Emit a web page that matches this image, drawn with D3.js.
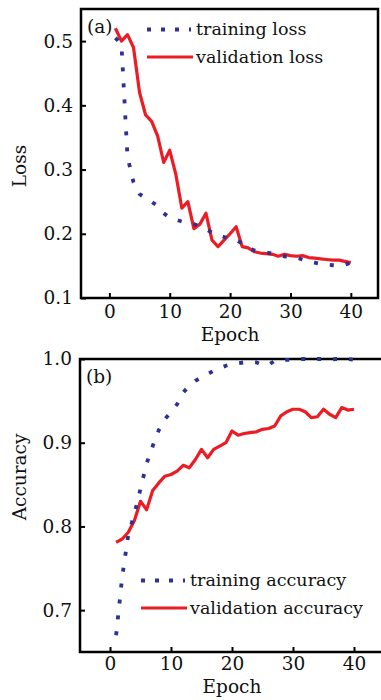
<!DOCTYPE html>
<html>
<head>
<meta charset="utf-8">
<script src="https://cdn.jsdelivr.net/npm/d3@7"></script>
<style>
  body { margin: 0; background: #fff; }
  svg { display: block; }
  text { font-family: "DejaVu Serif", serif; fill: #111; }
</style>
</head>
<body>
<div id="chart"></div>
<script>
const epochs = [1, 2, 3, 4, 5, 6, 7, 8, 9, 10, 11, 12, 13, 14, 15, 16, 17, 18, 19, 20,
  21, 22, 23, 24, 25, 26, 27, 28, 29, 30, 31, 32, 33, 34, 35, 36, 37, 38, 39, 40];

const trainingLoss = [0.505, 0.495, 0.32, 0.28, 0.262, 0.255, 0.25, 0.243, 0.232, 0.225,
  0.222, 0.219, 0.217, 0.215, 0.212, 0.207, 0.202, 0.198, 0.195, 0.192,
  0.19, 0.185, 0.178, 0.174, 0.172, 0.171, 0.169, 0.167, 0.165, 0.164,
  0.163, 0.16, 0.157, 0.155, 0.153, 0.152, 0.151, 0.15, 0.152, 0.155];

const validationLoss = [0.52, 0.50, 0.51, 0.49, 0.42, 0.385, 0.375, 0.352, 0.311, 0.33,
  0.293, 0.24, 0.25, 0.208, 0.215, 0.232, 0.19, 0.18, 0.19, 0.20,
  0.211, 0.18, 0.178, 0.172, 0.17, 0.169, 0.168, 0.165, 0.168, 0.166,
  0.165, 0.166, 0.163, 0.162, 0.161, 0.16, 0.159, 0.159, 0.157, 0.155];

const trainingAccuracy = [0.67, 0.74, 0.79, 0.815, 0.845, 0.875, 0.896, 0.915, 0.928, 0.937,
  0.946, 0.96, 0.968, 0.974, 0.978, 0.982, 0.986, 0.989, 0.992, 0.994,
  0.995, 0.996, 0.996, 0.996, 0.993, 0.993, 0.998, 0.999, 0.999, 0.999,
  1.0, 1.0, 0.999, 1.0, 1.0, 0.999, 1.0, 1.0, 1.0, 0.999];

const validationAccuracy = [0.781, 0.785, 0.793, 0.807, 0.83, 0.82, 0.843, 0.852, 0.86, 0.862,
  0.866, 0.873, 0.87, 0.88, 0.892, 0.882, 0.892, 0.896, 0.9, 0.914,
  0.909, 0.911, 0.912, 0.913, 0.916, 0.917, 0.92, 0.932, 0.937, 0.94,
  0.94, 0.937, 0.93, 0.931, 0.94, 0.934, 0.93, 0.942, 0.939, 0.94];

const xTicks = [0, 10, 20, 30, 40];
const lossTicks = [0.1, 0.2, 0.3, 0.4, 0.5];
const accuracyTicks = [0.7, 0.8, 0.9, 1.0];

const width = 381, height = 700;
const red = '#ec1c24', blue = '#2e3192';
const dots = '4 12';

const svg = d3.select('#chart').append('svg')
  .attr('width', width)
  .attr('height', height);

function drawPanel(opt) {
  const x = d3.scaleLinear().domain(opt.xDomain).range([opt.left, opt.right]);
  const y = d3.scaleLinear().domain(opt.yDomain).range([opt.bottom, opt.top]);
  const g = svg.append('g');

  // frame
  g.append('rect')
    .attr('x', opt.left)
    .attr('y', opt.top)
    .attr('width', opt.right - opt.left)
    .attr('height', opt.bottom - opt.top)
    .attr('fill', 'none')
    .attr('stroke', '#000')
    .attr('stroke-width', 2.5);

  // axes with inward ticks
  const xAxis = g.append('g')
    .attr('transform', `translate(0,${opt.bottom})`)
    .call(d3.axisBottom(x).tickValues(xTicks).tickSizeInner(-5).tickSizeOuter(0).tickPadding(opt.xPad));
  const yAxis = g.append('g')
    .attr('transform', `translate(${opt.left},0)`)
    .call(d3.axisLeft(y).tickValues(opt.yTicks).tickSizeInner(-5).tickSizeOuter(0).tickPadding(8)
      .tickFormat(d3.format('.1f')));
  [xAxis, yAxis].forEach(a => {
    a.select('.domain').remove();
    a.selectAll('line').attr('stroke', '#000').attr('stroke-width', 2);
    a.selectAll('text').style('font-size', '18.5px').style('font-family', '"DejaVu Serif", serif').attr('fill', '#111');
  });

  const line = d3.line()
    .x((d, i) => x(epochs[i]))
    .y(d => y(d));

  g.append('path')
    .datum(opt.validation)
    .attr('fill', 'none')
    .attr('stroke', red)
    .attr('stroke-width', 3.2)
    .attr('stroke-linejoin', 'round')
    .attr('d', line);

  g.append('path')
    .datum(opt.training)
    .attr('fill', 'none')
    .attr('stroke', blue)
    .attr('stroke-width', 3.8)
    .attr('stroke-dasharray', dots)
    .attr('d', line);

  // legend
  const lg = g.append('g');
  lg.append('line')
    .attr('x1', opt.legendX).attr('x2', opt.legendX + 44)
    .attr('y1', opt.legendY).attr('y2', opt.legendY)
    .attr('stroke', blue).attr('stroke-width', 3.8)
    .attr('stroke-dasharray', '4 10');
  lg.append('line')
    .attr('x1', opt.legendX).attr('x2', opt.legendX + 46)
    .attr('y1', opt.legendY + 27.5).attr('y2', opt.legendY + 27.5)
    .attr('stroke', red).attr('stroke-width', 3.2);
  lg.append('text')
    .attr('x', opt.legendX + 49)
    .attr('y', opt.legendY + 5.5)
    .style('font-size', '17.5px')
    .text(opt.names[0]);
  lg.append('text')
    .attr('x', opt.legendX + 49)
    .attr('y', opt.legendY + 33)
    .style('font-size', '17.5px')
    .text(opt.names[1]);

  // panel tag
  g.append('text')
    .attr('x', opt.left + 6)
    .attr('y', opt.tagY)
    .style('font-size', '18.5px')
    .text(opt.tag);

  g.append('text')
    .attr('x', (x(0) + x(40)) / 2)
    .attr('y', opt.epochY)
    .attr('text-anchor', 'middle')
    .style('font-size', '18.5px')
    .text('Epoch');

  g.append('text')
    .attr('transform', `translate(26,${opt.yLabelY}) rotate(-90)`)
    .attr('text-anchor', 'middle')
    .style('font-size', '18.5px')
    .text(opt.yLabel);
}

drawPanel({
  left: 81, right: 378, top: 9, bottom: 298,
  xDomain: [-4.7, 44.5], yDomain: [0.1, 0.55], yTicks: lossTicks,
  training: trainingLoss, validation: validationLoss,
  names: ['training loss', 'validation loss'],
  legendX: 147, legendY: 29.5, xPad: 7,
  tag: '(a)', tagY: 33, epochY: 341,
  yLabel: 'Loss', yLabelY: 166
});

drawPanel({
  left: 80, right: 386, top: 359, bottom: 652,
  xDomain: [-4.92, 45.25], yDomain: [0.65, 1.0], yTicks: accuracyTicks,
  training: trainingAccuracy, validation: validationAccuracy,
  names: ['training accuracy', 'validation accuracy'],
  legendX: 141, legendY: 580.5, xPad: 5,
  tag: '(b)', tagY: 383, epochY: 693,
  yLabel: 'Accuracy', yLabelY: 477
});
</script>
</body>
</html>
